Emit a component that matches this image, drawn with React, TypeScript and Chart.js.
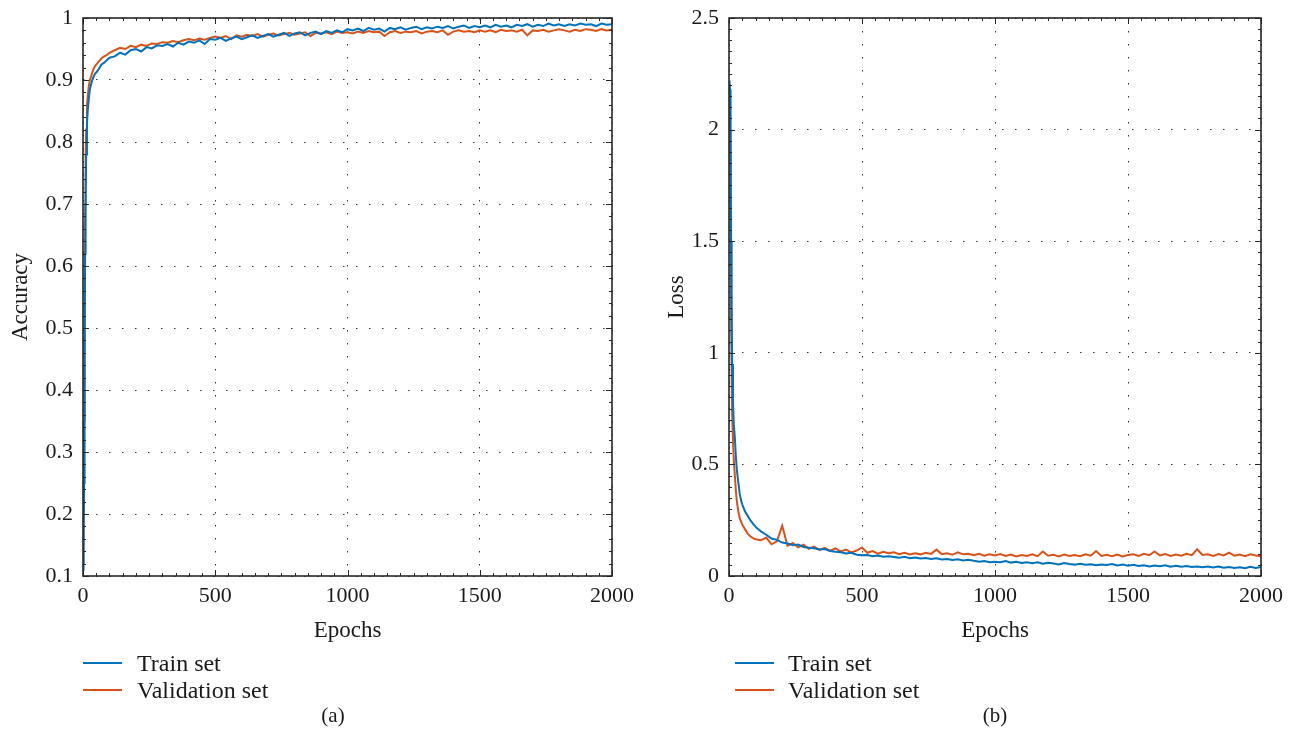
import React, { useEffect, useRef } from "react";
import { Chart, registerables } from "chart.js";
Chart.register(...registerables);

// ---------- data ----------
const EPOCHS = [
  0, 2, 4, 6, 8, 10, 12, 15, 18, 22, 26, 30, 35, 40, 45, 50, 60, 70, 80, 90, 100,
  120, 140, 160, 180, 200, 220, 240, 260, 280, 300, 320, 340, 360, 380, 400,
  420, 440, 460, 480, 500, 520, 540, 560, 580, 600, 620, 640, 660, 680, 700,
  720, 740, 760, 780, 800, 820, 840, 860, 880, 900, 920, 940, 960, 980, 1000,
  1020, 1040, 1060, 1080, 1100, 1120, 1140, 1160, 1180, 1200, 1220, 1240, 1260, 1280, 1300,
  1320, 1340, 1360, 1380, 1400, 1420, 1440, 1460, 1480, 1500, 1520, 1540, 1560, 1580, 1600,
  1620, 1640, 1660, 1680, 1700, 1720, 1740, 1760, 1780, 1800, 1820, 1840, 1860, 1880, 1900,
  1920, 1940, 1960, 1980, 2000,
];

const ACC_TRAIN = [
  0.11, 0.14, 0.25, 0.45, 0.62, 0.72, 0.78, 0.83, 0.85, 0.87, 0.885, 0.892, 0.9, 0.905, 0.91, 0.912, 0.918, 0.925, 0.928, 0.932, 0.936,
  0.938, 0.944, 0.941, 0.948, 0.95, 0.946, 0.953, 0.951, 0.956, 0.955, 0.958, 0.954, 0.96, 0.957, 0.962,
  0.96, 0.964, 0.958, 0.966, 0.965, 0.968, 0.963, 0.967, 0.97, 0.966, 0.969, 0.972, 0.968, 0.971, 0.974,
  0.97, 0.973, 0.976, 0.971, 0.975, 0.977, 0.972, 0.976, 0.978, 0.974, 0.979, 0.976, 0.98, 0.977, 0.982,
  0.98, 0.983, 0.979, 0.984, 0.981, 0.983, 0.978, 0.984, 0.982, 0.985, 0.981, 0.984, 0.986, 0.982, 0.985,
  0.983, 0.986, 0.984, 0.987, 0.983, 0.986, 0.988, 0.984, 0.987, 0.985, 0.988, 0.985, 0.989, 0.986, 0.988,
  0.985, 0.989, 0.987, 0.99, 0.986, 0.989, 0.987, 0.991, 0.988, 0.99, 0.987, 0.99, 0.988, 0.991, 0.989,
  0.99, 0.987, 0.991, 0.989, 0.99,
];

const ACC_VAL = [
  0.12, 0.2, 0.35, 0.55, 0.7, 0.78, 0.82, 0.86, 0.875, 0.89, 0.9, 0.905, 0.912, 0.918, 0.922, 0.925, 0.93, 0.935, 0.938, 0.94, 0.944,
  0.948, 0.952, 0.95, 0.955, 0.953, 0.957, 0.955, 0.959, 0.958, 0.961, 0.96, 0.963, 0.961, 0.964, 0.966,
  0.964, 0.967, 0.965, 0.968, 0.97, 0.968, 0.971, 0.966, 0.972, 0.97, 0.973, 0.971, 0.974, 0.97, 0.973,
  0.975, 0.972, 0.974, 0.976, 0.973, 0.975, 0.977, 0.971, 0.976, 0.975, 0.977, 0.974, 0.978, 0.976, 0.977,
  0.975, 0.978, 0.976, 0.979, 0.977, 0.978, 0.971, 0.977, 0.979, 0.976, 0.978, 0.977, 0.979, 0.975, 0.978,
  0.979, 0.977, 0.98, 0.973, 0.978, 0.98, 0.978, 0.979, 0.977, 0.98, 0.978, 0.98, 0.977, 0.981, 0.979,
  0.98, 0.978, 0.981, 0.972, 0.98, 0.979, 0.981, 0.978, 0.98, 0.982, 0.98, 0.978, 0.981, 0.979, 0.982,
  0.981, 0.979, 0.982, 0.98, 0.981,
];

const LOSS_TRAIN = [
  2.22, 2.21, 2.18, 1.9, 1.5, 1.15, 0.95, 0.78, 0.68, 0.62, 0.53, 0.47, 0.42, 0.37, 0.34, 0.32, 0.29, 0.27, 0.25, 0.235, 0.22,
  0.2, 0.185, 0.168, 0.162, 0.15, 0.146, 0.138, 0.141, 0.13, 0.127, 0.124, 0.119, 0.121, 0.112, 0.109,
  0.106, 0.101, 0.104, 0.095, 0.093, 0.094, 0.089, 0.092, 0.086, 0.088, 0.085, 0.082, 0.086, 0.08, 0.083,
  0.078, 0.081, 0.076, 0.079, 0.074, 0.076, 0.072, 0.075, 0.07, 0.073, 0.068, 0.064, 0.067, 0.062, 0.064,
  0.062, 0.067, 0.06, 0.064, 0.058, 0.062, 0.057, 0.061, 0.055, 0.059, 0.056, 0.052, 0.058, 0.054, 0.051,
  0.055, 0.05, 0.053, 0.048, 0.052, 0.049, 0.054, 0.047, 0.051, 0.046, 0.05, 0.045, 0.048, 0.043, 0.047,
  0.044, 0.048, 0.042, 0.046, 0.041, 0.045, 0.04, 0.043, 0.039, 0.042, 0.038, 0.042, 0.037, 0.04, 0.036,
  0.039, 0.035, 0.041, 0.036, 0.04,
];

const LOSS_VAL = [
  2.18, 2.17, 2.0, 1.6, 1.2, 0.9, 0.72, 0.6, 0.52, 0.45, 0.38, 0.33, 0.29, 0.26, 0.245, 0.23, 0.21, 0.19, 0.178, 0.17, 0.165,
  0.16, 0.172, 0.142, 0.155, 0.225, 0.135, 0.148, 0.128, 0.14, 0.122, 0.132, 0.117, 0.126, 0.113, 0.124,
  0.11, 0.118, 0.106, 0.114, 0.128, 0.104, 0.112, 0.1, 0.108, 0.102, 0.106, 0.098, 0.104, 0.096, 0.102,
  0.097, 0.104, 0.099, 0.118, 0.098, 0.102, 0.095, 0.106, 0.097, 0.1, 0.093, 0.099, 0.091, 0.097, 0.092,
  0.098, 0.09, 0.096, 0.088, 0.094, 0.09, 0.097, 0.089, 0.11, 0.091, 0.095, 0.088, 0.096, 0.09, 0.094,
  0.089, 0.097, 0.091, 0.112, 0.09, 0.095, 0.089, 0.096, 0.088, 0.094, 0.097, 0.09, 0.099, 0.093, 0.11,
  0.092, 0.098, 0.09, 0.096, 0.091, 0.099, 0.093, 0.12, 0.094, 0.097, 0.09, 0.098, 0.092, 0.105, 0.091,
  0.096, 0.089, 0.097, 0.092, 0.088,
];

const X_TICKS = [0, 500, 1000, 1500, 2000];
const ACC_TICKS = [0.1, 0.2, 0.3, 0.4, 0.5, 0.6, 0.7, 0.8, 0.9, 1];
const LOSS_TICKS = [0, 0.5, 1, 1.5, 2, 2.5];
const SERIES_NAMES = ["Train set", "Validation set"];
const COLORS = ["#0072BD", "#D95319"];

const FONT = "'Liberation Serif', 'Times New Roman', serif";
const INK = "#1a1a1a";

// ---------- frame / tick plugin ----------
const framePlugin = {
  id: "frame",
  afterDraw(chart: any, _args: any, opts: any) {
    const { ctx, chartArea: a, scales } = chart;
    const xs = scales.x;
    const ys = scales.y;
    ctx.save();
    ctx.strokeStyle = "#262626";
    ctx.lineWidth = 1;
    ctx.beginPath();
    const major = 6;
    const minor = 3;
    const tickX = (v: number, len: number) => {
      const px = Math.round(xs.getPixelForValue(v)) + 0.5;
      ctx.moveTo(px, a.bottom);
      ctx.lineTo(px, a.bottom - len);
      ctx.moveTo(px, a.top);
      ctx.lineTo(px, a.top + len);
    };
    const tickY = (v: number, len: number) => {
      const py = Math.round(ys.getPixelForValue(v)) + 0.5;
      ctx.moveTo(a.left, py);
      ctx.lineTo(a.left + len, py);
      ctx.moveTo(a.right, py);
      ctx.lineTo(a.right - len, py);
    };
    xs.ticks.forEach((t: any) => tickX(t.value, major));
    ys.ticks.forEach((t: any) => tickY(t.value, major));
    const xStep = opts.xMinor;
    for (let i = 1; xs.min + i * xStep < xs.max; i++) tickX(xs.min + i * xStep, minor);
    const yStep = opts.yMinor;
    for (let i = 1; ys.min + i * yStep < ys.max - 1e-9; i++) tickY(ys.min + i * yStep, minor);
    ctx.stroke();
    ctx.lineWidth = 1.6;
    ctx.strokeRect(a.left, a.top, a.right - a.left, a.bottom - a.top);
    ctx.restore();
  },
};

type Panel = {
  yTitle: string;
  yTicks: number[];
  yMin: number;
  yMax: number;
  yMinor: number;
  train: number[];
  val: number[];
  yWidth: number;
  padRight: number;
  yTitlePad: number;
};

function ChartPanel({ p }: { p: Panel }) {
  const ref = useRef<HTMLCanvasElement | null>(null);
  useEffect(() => {
    if (!ref.current) return;
    const mk = (arr: number[]) => EPOCHS.map((e, i) => ({ x: e, y: arr[i] }));
    const chart = new Chart(ref.current, {
      type: "line",
      data: {
        datasets: [
          { label: SERIES_NAMES[0], data: mk(p.train), borderColor: COLORS[0], borderWidth: 2, pointRadius: 0, tension: 0 },
          { label: SERIES_NAMES[1], data: mk(p.val), borderColor: COLORS[1], borderWidth: 2, pointRadius: 0, tension: 0 },
        ],
      },
      options: {
        animation: false,
        responsive: false,
        events: [],
        layout: { padding: { left: 0, top: 18, right: p.padRight, bottom: 0 } },
        plugins: {
          legend: { display: false },
          tooltip: { enabled: false },
          frame: { xMinor: 50, yMinor: p.yMinor },
        } as any,
        scales: {
          x: {
            type: "linear",
            min: 0,
            max: 2000,
            afterBuildTicks: (s: any) => {
              s.ticks = X_TICKS.map((v) => ({ value: v }));
            },
            afterFit: (s: any) => {
              s.height = 84;
            },
            ticks: {
              color: INK,
              font: { family: FONT, size: 22 },
              padding: 7,
              maxRotation: 0,
              callback: (v: any) => String(v),
            },
            grid: { color: "#333", lineWidth: 1, drawTicks: false },
            border: { display: false, dash: [1.5, 11.5] },
            title: {
              display: true,
              text: "Epochs",
              color: INK,
              font: { family: FONT, size: 23 },
              padding: { top: 0, bottom: 15 },
            },
          },
          y: {
            type: "linear",
            min: p.yMin,
            max: p.yMax,
            afterBuildTicks: (s: any) => {
              s.ticks = p.yTicks.map((v) => ({ value: v }));
            },
            afterFit: (s: any) => {
              s.width = p.yWidth;
              s.paddingTop = 0;
              s.paddingBottom = 0;
            },
            ticks: {
              color: INK,
              font: { family: FONT, size: 22 },
              padding: 10,
              callback: (v: any) => String(v),
            },
            grid: { color: "#333", lineWidth: 1, drawTicks: false },
            border: { display: false, dash: [1.5, 11.5] },
            title: {
              display: true,
              text: p.yTitle,
              color: INK,
              font: { family: FONT, size: 23 },
              padding: { top: p.yTitlePad, bottom: 0 },
            },
          },
        },
      },
      plugins: [framePlugin],
    } as any);
    return () => chart.destroy();
  }, [p]);
  return <canvas ref={ref} width={645} height={660} style={{ width: 645, height: 660, display: "block" }} />;
}

const ACC_PANEL: Panel = {
  yTitle: "Accuracy",
  yTicks: ACC_TICKS,
  yMin: 0.1,
  yMax: 1,
  yMinor: 0.02,
  train: ACC_TRAIN,
  val: ACC_VAL,
  yWidth: 83,
  padRight: 33,
  yTitlePad: 7,
};

const LOSS_PANEL: Panel = {
  yTitle: "Loss",
  yTicks: LOSS_TICKS,
  yMin: 0,
  yMax: 2.5,
  yMinor: 0.05,
  train: LOSS_TRAIN,
  val: LOSS_VAL,
  yWidth: 84,
  padRight: 28,
  yTitlePad: 18,
};

function Legend({ left, lineLen, textLeft }: { left: number; lineLen: number; textLeft: number }) {
  return (
    <>
      {SERIES_NAMES.map((name, i) => (
        <div key={name} style={{ position: "absolute", left, top: 663 + i * 27 - 14, height: 28, width: 300 }}>
          <div style={{ position: "absolute", left: 0, top: 13, width: lineLen, height: 2, background: COLORS[i] }} />
          <div
            style={{
              position: "absolute",
              left: textLeft - left,
              top: 0,
              lineHeight: "28px",
              fontFamily: FONT,
              fontSize: 24,
              color: INK,
              whiteSpace: "nowrap",
            }}
          >
            {name}
          </div>
        </div>
      ))}
    </>
  );
}

export default function App() {
  return (
    <div style={{ position: "absolute", left: 0, top: 0, width: 1290, height: 752, background: "#fff", overflow: "hidden" }}>
      <div style={{ position: "absolute", left: 0, top: 0 }}>
        <ChartPanel p={ACC_PANEL} />
      </div>
      <div style={{ position: "absolute", left: 645, top: 0 }}>
        <ChartPanel p={LOSS_PANEL} />
      </div>
      <Legend left={83} lineLen={39} textLeft={137} />
      <Legend left={735} lineLen={39} textLeft={788} />
      <div style={{ position: "absolute", left: 283, width: 100, top: 703, textAlign: "center", fontFamily: FONT, fontSize: 21, color: INK }}>(a)</div>
      <div style={{ position: "absolute", left: 945, width: 100, top: 703, textAlign: "center", fontFamily: FONT, fontSize: 21, color: INK }}>(b)</div>
    </div>
  );
}
